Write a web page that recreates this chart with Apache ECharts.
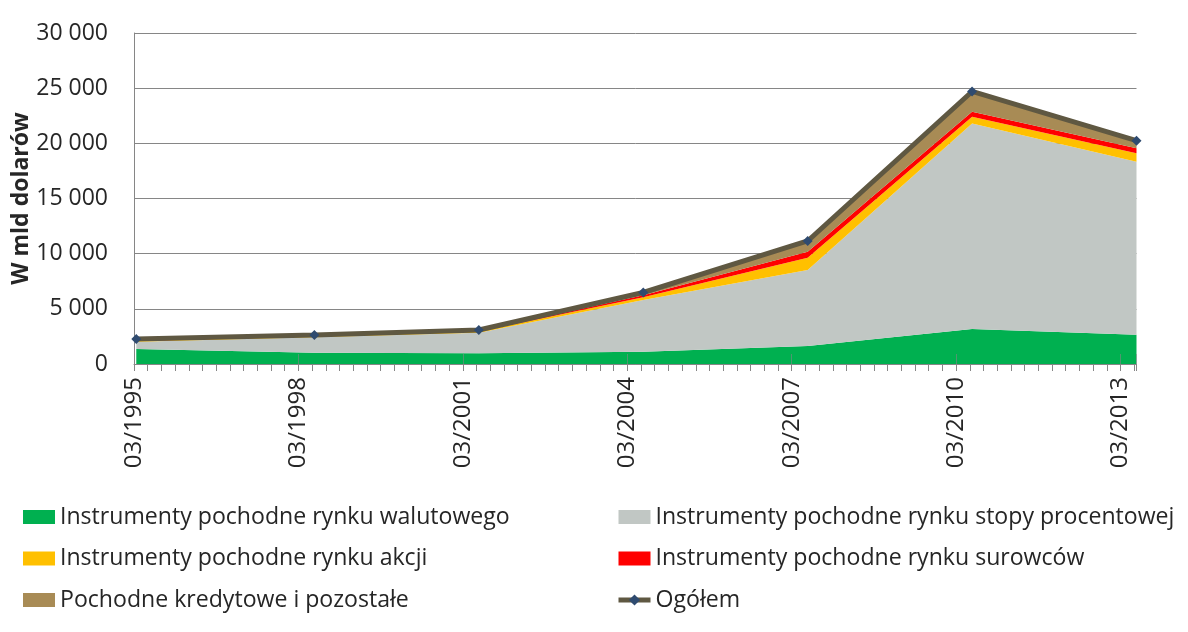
<!DOCTYPE html>
<html><head><meta charset="utf-8">
<script src="https://cdn.jsdelivr.net/npm/echarts@6/dist/echarts.min.js"></script>
<style>html,body{margin:0;padding:0;background:#fff}#c{width:1188px;height:632px}</style>
</head><body><div id="c"></div>
<script>
// Observation dates (month/year)
const dates = ['03/1995','06/1998','06/2001','06/2004','06/2007','06/2010','06/2013'];
// Values, billion USD
const fxValues        = [1360, 1030,  970, 1120, 1630,  3170,  2660];
const irValues        = [ 660, 1390, 1870, 4680, 6890, 18630, 15680];
const equityValues    = [  60,   70,  100,  245, 1115,   600,   760];
const commodityValues = [  30,   40,   50,  180,  545,   455,   460];
const otherValues     = [ 156,   98,   92,  255,  970,  1845,   680];
const totalValues     = [2266, 2628, 3082, 6480, 11150, 24700, 20240];

const xTickLabels = ['03/1995','03/1998','03/2001','03/2004','03/2007','03/2010','03/2013'];
const yTickLabels = ['0','5 000','10 000','15 000','20 000','25 000','30 000'];

const nameFX = 'Instrumenty pochodne rynku walutowego';
const nameIR = 'Instrumenty pochodne rynku stopy procentowej';
const nameEQ = 'Instrumenty pochodne rynku akcji';
const nameCOM = 'Instrumenty pochodne rynku surowców';
const nameOTH = 'Pochodne kredytowe i pozostałe';
const nameTOT = 'Ogółem';

// month index since 03/1995 (mid-month)
function toMonths(s){ const p = s.split('/').map(Number); return (p[1]-1995)*12 + (p[0]-3) + 0.5; }
const xMin = 0;
const xMax = toMonths(dates[dates.length-1]);
// rows are [value, month]; encode maps month to x so stacking applies to the value
const pts = arr => dates.map((d,i)=>[arr[i], toMonths(d)]);

const FONT = "'Open Sans', sans-serif";
const GRAY = '#868686';
const LINE_COLOR = '#5f5842';
const MARK_COLOR = '#2f4b70';

function areaSeries(name, arr, color){
  return {
    name, type:'line', stack:'total', data: pts(arr), encode:{x:1, y:0}, symbol:'none',
    color, lineStyle:{width:0}, areaStyle:{color, opacity:1}, itemStyle:{color},
    xAxisIndex:0, z:2, silent:true
  };
}

const legendText = {fontFamily:FONT, fontSize:23.1, color:'#262626', lineHeight:24};

const chart = echarts.init(document.getElementById('c'), null, {renderer:'canvas'});
chart.setOption({
  animation:false,
  backgroundColor:'#fff',
  grid:{left:134, right:51.5, top:33, bottom:268, containLabel:false, outerBoundsMode:'none'},
  xAxis:[
    {type:'value', min:xMin, max:xMax, interval:36, position:'bottom', z:4,
     axisLine:{show:true, lineStyle:{color:GRAY, width:1}},
     axisTick:{show:true, inside:true, length:10, lineStyle:{color:'rgba(134,134,134,0.6)'}},
     splitLine:{show:false},
     axisLabel:{rotate:90, margin:13, fontFamily:FONT, fontSize:24, color:'#262626',
       formatter:v => (Math.abs(v % 36) < 1e-6 ? xTickLabels[Math.round(v/36)] : '')}
    },
    {type:'value', min:xMin, max:xMax, interval:3, position:'bottom', gridIndex:0,
     axisLine:{show:false},
     axisTick:{show:true, inside:false, length:7, lineStyle:{color:GRAY}},
     splitLine:{show:false}, axisLabel:{show:false}
    }
  ],
  yAxis:{type:'value', min:0, max:30000, interval:5000,
    name:'W mld dolarów', nameLocation:'middle', nameGap:101, nameRotate:90, nameMoveOverlap:false,
    nameTextStyle:{fontFamily:FONT, fontWeight:'bold', fontSize:23, color:'#262626'},
    axisLine:{show:true, lineStyle:{color:GRAY}},
    axisTick:{show:false},
    splitLine:{show:true, lineStyle:{color:GRAY, width:1}},
    axisLabel:{margin:26, fontFamily:FONT, fontSize:23, color:'#262626',
      formatter:v => yTickLabels[Math.round(v/5000)]}
  },
  legend:[
    {left:23, top:505, padding:0, orient:'vertical', itemWidth:32, itemHeight:14, itemGap:17.5, selectedMode:false,
     textStyle:legendText,
     data:[{name:nameFX, icon:'rect'},{name:nameEQ, icon:'rect'},{name:nameOTH, icon:'rect'}]},
    {left:616, top:505, padding:0, orient:'vertical', itemWidth:32, itemHeight:14, itemGap:17.5, selectedMode:false,
     textStyle:legendText,
     data:[{name:nameIR, icon:'rect'},{name:nameCOM, icon:'rect'},
           {name:nameTOT, lineStyle:{width:5, color:LINE_COLOR}, itemStyle:{color:MARK_COLOR}}]}
  ],
  series:[
    areaSeries(nameFX, fxValues, '#00b050'),
    areaSeries(nameIR, irValues, '#c1c7c4'),
    areaSeries(nameEQ, equityValues, '#ffc000'),
    areaSeries(nameCOM, commodityValues, '#ff0000'),
    areaSeries(nameOTH, otherValues, '#a88b55'),
    {name:nameTOT, type:'line', data: pts(totalValues), encode:{x:1, y:0}, xAxisIndex:0,
     color:LINE_COLOR,
     lineStyle:{color:LINE_COLOR, width:5},
     symbol:'diamond', symbolSize:10, showSymbol:true,
     itemStyle:{color:MARK_COLOR, borderColor:MARK_COLOR, borderWidth:0},
     z:5, silent:true}
  ]
});
</script></body></html>
